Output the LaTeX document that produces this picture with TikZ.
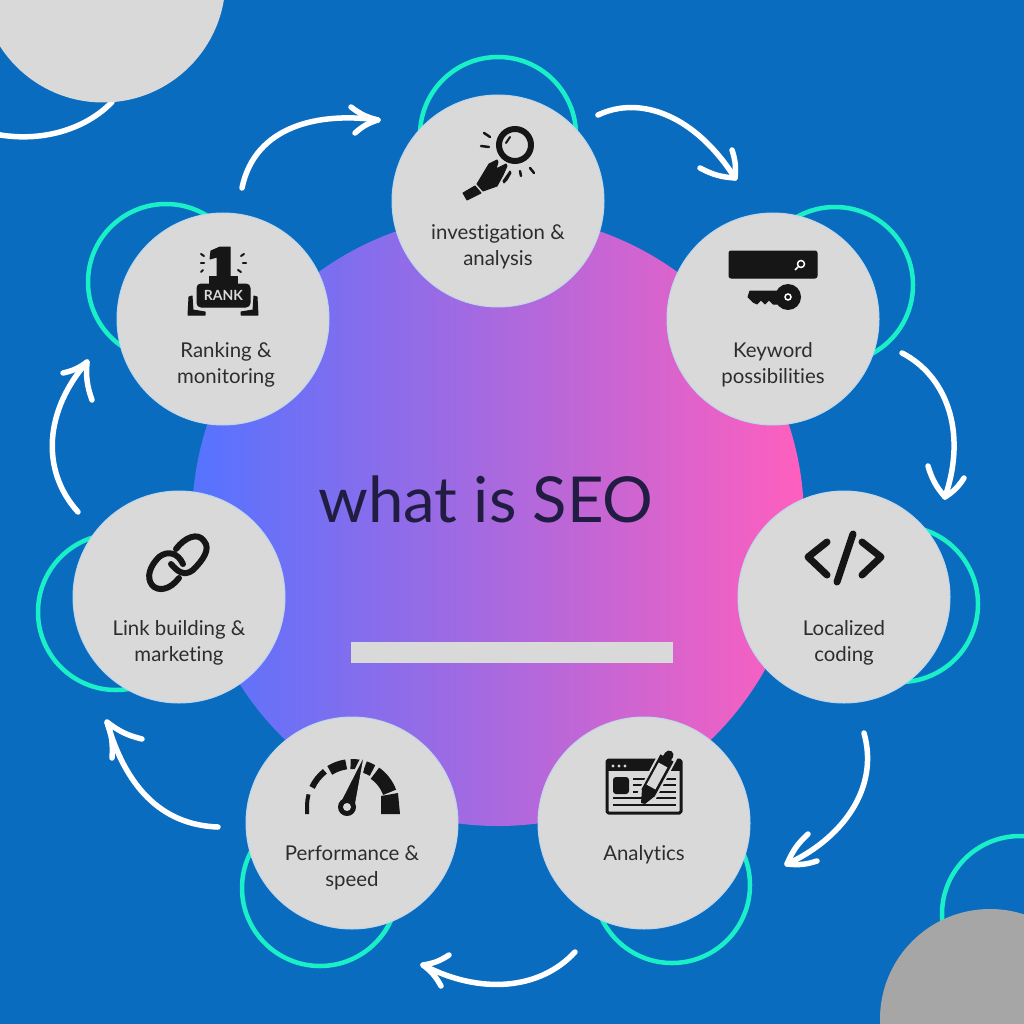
\documentclass[tikz,border=0pt]{standalone}
\usepackage{fontspec}
\setmainfont[Ligatures=NoCommon]{Lato}
\definecolor{bgblue}{RGB}{10,108,190}
\definecolor{discgrey}{RGB}{217,217,217}
\definecolor{discedge}{RGB}{190,214,234}
\definecolor{ringteal}{RGB}{25,240,200}
\definecolor{cornergrey}{RGB}{166,166,166}
\definecolor{icondark}{RGB}{22,22,22}
\definecolor{textdark}{RGB}{45,45,45}
\definecolor{titledark}{RGB}{32,28,66}
\definecolor{hubleft}{RGB}{85,115,255}
\definecolor{hubmid}{RGB}{172,110,225}
\definecolor{hubright}{RGB}{255,95,190}
\tikzset{
  disc/.style={circle,fill=discgrey,draw=discedge,line width=1pt,minimum size=212pt,inner sep=0pt},
  ring/.style={draw=ringteal,line width=4.5pt},
  lab/.style={align=center,text=textdark,font=\fontsize{20.4}{26}\selectfont,inner sep=0pt},
  sweep/.style={draw=white,line width=5.5pt,line cap=round,line join=round},
  ink/.style={draw=icondark,line cap=round,line join=round},
  inkfill/.style={fill=icondark,draw=icondark,line join=round,line width=1pt}
}
\begin{document}
\begin{tikzpicture}[x=1pt,y=-1pt]
\clip (0,0) rectangle (1024,1024);
\fill[bgblue] (0,0) rectangle (1024,1024);
\draw[sweep] (-5,134) .. controls (40,143) and (85,130) .. (112,102);
\fill[discgrey] (103,-20) circle (122.5pt);
\draw[ring] (1020,914) circle (78pt);
\fill[cornergrey] (990,1019) circle (110pt);
\node[circle,minimum size=612pt,inner sep=0pt,left color=hubleft,middle color=hubmid,right color=hubright] (hub) at (498,520) {};
\draw[ring] (498,135) circle (78pt);
\draw[ring] (835,285) circle (78pt);
\draw[ring] (900,604) circle (78pt);
\draw[ring] (672,885) circle (78pt);
\draw[ring] (320,888) circle (78pt);
\draw[ring] (116,612) circle (78pt);
\draw[ring] (166,282) circle (78pt);
\node[disc] (n1) at (498,201) {};
\node[disc] (n2) at (773,319) {};
\node[disc] (n3) at (844,597) {};
\node[disc] (n4) at (644,823) {};
\node[disc] (n5) at (352,823) {};
\node[disc] (n6) at (179,597) {};
\node[disc] (n7) at (223,319) {};
\node[lab] (t1) at (498,247) {investigation \&\\analysis};
\node[lab] (t2) at (773,365) {Keyword\\possibilities};
\node[lab] (t3) at (844,643) {Localized\\coding};
\node[lab] (t4) at (644,855) {Analytics};
\node[lab] (t5) at (352,868) {Performance \&\\speed};
\node[lab] (t6) at (179,643) {Link building \&\\marketing};
\node[lab] (t7) at (226,365) {Ranking \&\\monitoring};
\node[text=titledark,font=\fontsize{63.4}{63.4}\selectfont,inner sep=0pt] (title) at (486,499) {what is SEO};
\fill[discgrey] (351,642) rectangle (673,663);
\coordinate (a1s) at (598,115);
\coordinate (a1t) at (735,178);
\coordinate (a2s) at (902,353);
\coordinate (a2t) at (945,497);
\coordinate (a3s) at (864,733);
\coordinate (a3t) at (787,864);
\coordinate (a4s) at (575,952);
\coordinate (a4t) at (423,965);
\coordinate (a5s) at (218,827);
\coordinate (a5t) at (107,722);
\coordinate (a6s) at (78,512);
\coordinate (a6t) at (87,362);
\coordinate (a7s) at (242,188);
\coordinate (a7t) at (378,120);
\draw[sweep] (a1s) .. controls (640,95) and (695,115) .. (a1t);
\draw[sweep] (700,168) to[bend right=12] (a1t) to[bend right=12] (732,150);
\draw[sweep] (a2s) .. controls (945,375) and (968,430) .. (a2t);
\draw[sweep] (928,466) to[bend right=12] (a2t) to[bend right=12] (964,478);
\draw[sweep] (a3s) .. controls (880,790) and (840,840) .. (a3t);
\draw[sweep] (808,834) to[bend right=12] (a3t) to[bend right=12] (817,861);
\draw[sweep] (a4s) .. controls (540,990) and (480,995) .. (a4t);
\draw[sweep] (441,986) to[bend right=12] (a4t) to[bend right=12] (449,955);
\draw[sweep] (a5s) .. controls (160,825) and (125,785) .. (a5t);
\draw[sweep] (112,758) to[bend right=12] (a5t) to[bend right=12] (142,739);
\draw[sweep] (a6s) .. controls (40,470) and (45,410) .. (a6t);
\draw[sweep] (63,373) to[bend right=12] (a6t) to[bend right=12] (92,400);
\draw[sweep] (a7s) .. controls (255,125) and (320,112) .. (a7t);
\draw[sweep] (351,107) to[bend right=12] (a7t) to[bend right=12] (355,133);
\draw[ink,line width=6pt] (515,145) circle (16pt);
\draw[ink,line width=2pt] (506,143) -- (510,137);
\draw[ink,line width=2.5pt] (481,146) -- (489,147);
\draw[ink,line width=2.5pt] (484,133) -- (490,137);
\draw[ink,line width=2.5pt] (520,171) -- (521,176);
\draw[ink,line width=2.5pt] (530,168) -- (534,173);
\draw[inkfill] (463,193) -- (475,186) -- (481,193) -- (467,200) -- cycle;
\draw[inkfill] (477,184) -- (489,164) -- (497,160) -- (498,162) -- (496,169) -- (506,164) -- (507,166) -- (503,175) -- (497,186) -- (483,191) -- cycle;
\draw[inkfill] (503,181) -- (510,171) -- (511,173) -- (507,180) -- (504,183) -- cycle;
\draw[inkfill,rounded corners=2pt] (729,251) rectangle (817,278);
\draw[white,line width=1.5pt] (801,264) circle (3.5pt);
\draw[white,line width=1.5pt] (798,267) -- (795,270);
\fill[icondark] (788,297) circle (13pt);
\draw[inkfill] (750,291) -- (790,291) -- (790,304) -- (773,304) -- (769,300) -- (765,304) -- (761,300) -- (757,304) -- (753,302) -- (748,297) -- cycle;
\draw[white,line width=1.5pt] (788,297) circle (3pt);
\draw[inkfill] (220,247) -- (230,247) -- (230,276) -- (217,276) -- (217,257) -- (210,259) -- (211,251) -- cycle;
\draw[inkfill] (209,276) rectangle (237,284);
\draw[inkfill,rounded corners=4pt] (197,284) rectangle (250,307);
\node[text=discgrey,font=\bfseries\fontsize{14}{14}\selectfont,inner sep=0pt] (ranktag) at (223.5,295.5) {RANK};
\draw[ink,line width=2.5pt] (201,263) -- (204,263);
\draw[ink,line width=2pt] (201,254) -- (204,256);
\draw[ink,line width=2pt] (201,272) -- (203,270);
\draw[ink,line width=2.5pt] (243,263) -- (246,263);
\draw[ink,line width=2pt] (241,256) -- (244,254);
\draw[ink,line width=2pt] (238,270) -- (241,272);
\draw[inkfill] (189,297) -- (192,296) -- (193,310) -- (205,312) -- (205,315) -- (188,315) -- cycle;
\draw[inkfill] (257,297) -- (254,296) -- (253,310) -- (241,312) -- (241,315) -- (258,315) -- cycle;
\draw[ink,line width=7pt] (827,542) -- (808,557) -- (827,575);
\draw[ink,line width=7pt] (853,534) -- (837,582);
\draw[ink,line width=7pt] (862,542) -- (881,557) -- (862,575);
\draw[ink,line width=6pt] (176,549) .. controls (185,537) and (198,532) .. (204,541) .. controls (211,549) and (203,560) .. (193,570) .. controls (184,577) and (177,571) .. (171,564);
\draw[ink,line width=6pt] (179,578) .. controls (170,590) and (158,592) .. (152,585) .. controls (146,577) and (150,566) .. (159,557) .. controls (168,550) and (178,553) .. (183,564);
\coordinate (gc) at (352,806);
\draw[draw=icondark,line width=4pt] (307,814) -- (307,806) arc[start angle=180,end angle=165,radius=45pt];
\draw[draw=icondark,line width=6pt] (gc) ++(155:44pt) arc[start angle=155,end angle=128,radius=44pt];
\draw[draw=icondark,line width=10pt] (gc) ++(122:42pt) arc[start angle=122,end angle=98,radius=42pt];
\draw[draw=icondark,line width=10pt] (gc) ++(92:42pt) arc[start angle=92,end angle=80,radius=42pt];
\draw[draw=icondark,line width=12pt] (gc) ++(72:41pt) arc[start angle=72,end angle=60,radius=41pt];
\draw[draw=icondark,line width=14pt] (gc) ++(55:40pt) arc[start angle=55,end angle=20,radius=40pt];
\fill[icondark] (381,814) -- (381,796) -- (398,793) -- (400,814) -- cycle;
\draw[fill=icondark,draw=discgrey,line width=2.5pt] (339,803) -- (366,750) -- (355,811) -- cycle;
\fill[icondark] (347,807) circle (9pt);
\fill[discgrey] (347,807) circle (4pt);
\draw[ink,fill=discgrey,line width=3pt,rounded corners=1.5pt] (607,760) rectangle (681,813);
\fill[icondark] (607,760) rectangle (681,771);
\fill[discgrey] (613,766) circle (1.6pt) (619,766) circle (1.6pt) (625,766) circle (1.6pt);
\fill[icondark,rounded corners=3pt] (613,777) rectangle (629,794);
\draw[draw=icondark,line width=2pt] (633,779) -- (676,779);
\draw[draw=icondark,line width=2pt] (633,785) -- (676,785);
\draw[draw=icondark,line width=2pt] (633,792) -- (676,792);
\draw[draw=icondark,line width=2pt] (613,798) -- (676,798);
\draw[draw=icondark,line width=2pt] (613,805) -- (676,805);
\draw[draw=discgrey,line width=19pt] (646,797) -- (669,754);
\draw[draw=icondark,line width=15pt] (648,793) -- (667,758);
\draw[draw=discgrey,line width=10pt] (651,787) -- (663,765);
\draw[ink,line width=9pt] (667,758) -- (669,755);
\fill[icondark] (642,789) -- (655,796) -- (645,804) -- (641,803) -- cycle;
\end{tikzpicture}
\end{document}
